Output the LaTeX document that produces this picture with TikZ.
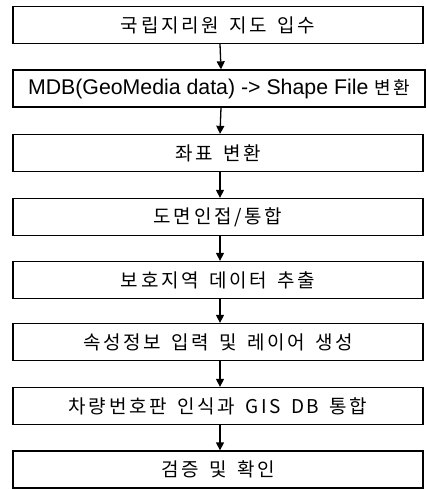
\documentclass[tikz,border=0pt]{standalone}
\usepackage{fontspec}
\setmainfont{Liberation Sans}
\newfontfamily\kr[LetterSpace=14,WordSpace=1.5]{Noto Sans CJK KR}
\usetikzlibrary{arrows.meta}
\tikzset{
  box/.style={draw, line width=1.3pt, minimum width=410pt, minimum height=37pt, inner sep=0pt, font=\kr\fontsize{19}{21}\selectfont},
  arr/.style={line width=1.3pt, -{Triangle[width=8pt,length=8pt]}}
}
\begin{document}
\begin{tikzpicture}[x=1pt,y=-1pt]
\useasboundingbox (0,0) rectangle (427,490);
\node[box] (b1) at (218,25) {국립지리원 지도 입수};
\node[box, minimum width=412pt, font=\fontsize{21.3}{23}\selectfont] (b2) at (219,88.5) {MDB(GeoMedia data) -> Shape File {\kr\fontsize{18}{20}\selectfont 변환}};
\node[box] (b3) at (218,153) {좌표 변환};
\node[box] (b4) at (218,217) {도면인접/통합};
\node[box] (b5) at (218,280) {보호지역 데이터 추출};
\node[box] (b6) at (218,342) {속성정보 입력 및 레이어 생성};
\node[box] (b7) at (218,406) {차량번호판 인식과 GIS DB 통합};
\node[box] (b8) at (218,469.5) {검증 및 확인};
\foreach \a/\b in {b1/b2,b2/b3,b3/b4,b4/b5,b5/b6,b6/b7,b7/b8}
  \draw[arr] ([xshift=2pt]\a.south) -- ([xshift=2pt]\b.north);
\end{tikzpicture}
\end{document}
